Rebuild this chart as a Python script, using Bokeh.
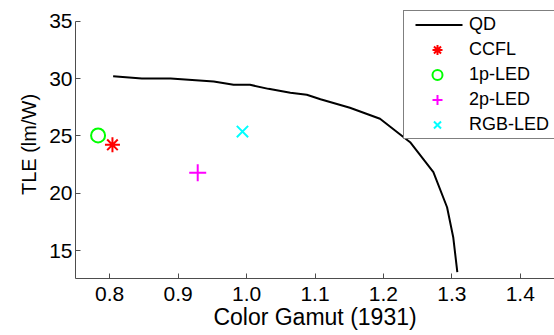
import numpy as np
from bokeh.plotting import figure
from bokeh.models import Legend, LegendItem, FixedTicker, PrintfTickFormatter
from bokeh.embed import file_html
from bokeh.resources import INLINE

# ---- data ----
qd_gamut = [0.805, 0.847, 0.889, 0.952, 0.981, 1.005, 1.032, 1.064, 1.088, 1.108,
            1.151, 1.195, 1.239, 1.273, 1.293, 1.302, 1.308]
qd_tle = [30.2, 30.0, 30.0, 29.74, 29.45, 29.45, 29.1, 28.76, 28.58, 28.2,
          27.45, 26.49, 24.45, 21.84, 18.78, 16.17, 13.12]

ccfl_gamut = [0.804]
ccfl_tle = [24.22]
led1p_gamut = [0.783]
led1p_tle = [25.04]
led2p_gamut = [0.9286]
led2p_tle = [21.78]
rgb_gamut = [0.994]
rgb_tle = [25.38]

x_ticks = [0.8, 0.9, 1.0, 1.1, 1.2, 1.3, 1.4]
y_ticks = [15, 20, 25, 30, 35]

FONT = "Liberation Sans"
AXIS_COLOR = "#4d4d4d"

Y_MIN, Y_TOP_TICK = 12.57, 35
p = figure(width=554, height=335, x_range=(0.75, 1.45), y_range=(Y_MIN, 35.93),
           output_backend="svg", toolbar_location=None,
           min_border_left=75, min_border_right=0, min_border_top=10, min_border_bottom=57)
p.outline_line_color = None
p.grid.visible = False
p.background_fill_color = "white"

r_qd = p.line(qd_gamut, qd_tle, line_color="black", line_width=2)
r_ccfl = p.scatter(ccfl_gamut, ccfl_tle, marker="asterisk", size=15,
                   line_color="#ff0000", line_width=2)
r_1p = p.scatter(led1p_gamut, led1p_tle, marker="circle", size=14,
                 line_color="#00ff00", fill_color=None, line_width=2)
r_2p = p.scatter(led2p_gamut, led2p_tle, marker="cross", size=17,
                 line_color="#ff00ff", line_width=2)
r_rgb = p.scatter(rgb_gamut, rgb_tle, marker="x", size=16,
                  line_color="#00ffff", line_width=2)
# legend-only key for the QD entry (draws nothing in the plot)
r_qd_key = p.line(x=np.array([np.nan]), y=np.array([np.nan]), line_color="black",
                  line_width=2, line_dash="0 10 47 200")

p.xaxis.ticker = FixedTicker(ticks=x_ticks)
p.xaxis.formatter = PrintfTickFormatter(format="%.1f")
p.yaxis.ticker = FixedTicker(ticks=y_ticks)
p.yaxis.formatter = PrintfTickFormatter(format="%d")
p.yaxis.bounds = (Y_MIN, Y_TOP_TICK)
p.xaxis.axis_label = "Color Gamut (1931)"
p.yaxis.axis_label = "TLE (lm/W)"

for ax in (p.xaxis[0], p.yaxis[0]):
    ax.axis_line_color = AXIS_COLOR
    ax.axis_line_width = 1
    ax.major_tick_line_color = AXIS_COLOR
    ax.major_tick_in = 5
    ax.major_tick_out = 0
    ax.minor_tick_line_color = None
    ax.major_label_text_font = FONT
    ax.major_label_text_font_size = "21px"
    ax.major_label_text_color = "black"
    ax.axis_label_text_font = FONT
    ax.axis_label_text_font_style = "normal"
    ax.axis_label_text_color = "black"

p.xaxis.axis_label_text_font_size = "23px"
p.yaxis.axis_label_text_font_size = "20px"
p.xaxis.major_label_standoff = 8
p.xaxis.axis_label_standoff = 0
p.yaxis.major_label_standoff = 3
p.yaxis.axis_label_standoff = 6

legend = Legend(items=[
    LegendItem(label="QD", renderers=[r_qd_key]),
    LegendItem(label="CCFL", renderers=[r_ccfl]),
    LegendItem(label="1p-LED", renderers=[r_1p]),
    LegendItem(label="2p-LED", renderers=[r_2p]),
    LegendItem(label="RGB-LED", renderers=[r_rgb]),
], location=(328, 139))
legend.border_line_color = "black"
legend.border_line_width = 1
legend.background_fill_color = "white"
legend.background_fill_alpha = 1
legend.padding = 1
legend.spacing = 0
legend.margin = 0
legend.glyph_width = 64
legend.glyph_height = 25
legend.label_height = 20
legend.label_width = 87
legend.label_standoff = 0
legend.label_text_font = FONT
legend.label_text_font_size = "18px"
legend.label_text_color = "black"
p.add_layout(legend)

open("out.html", "w").write(file_html(p, INLINE))
